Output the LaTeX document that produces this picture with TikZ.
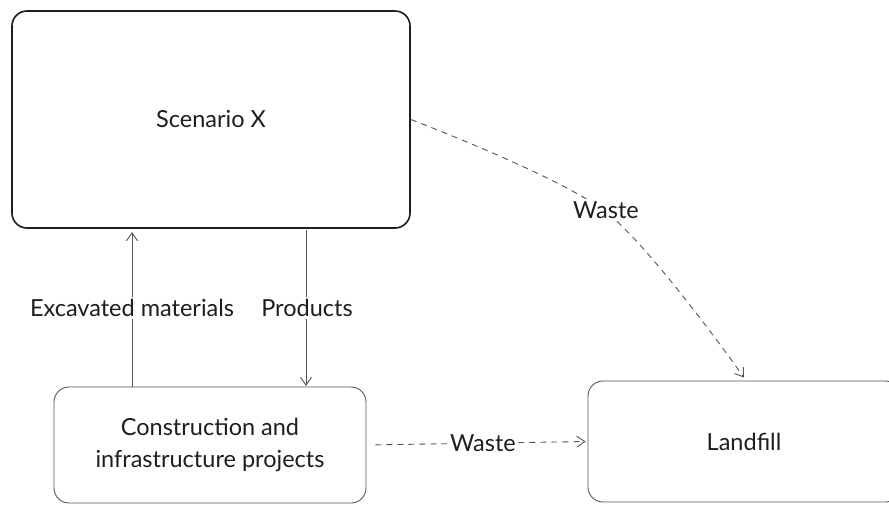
\documentclass[tikz,border=0pt]{standalone}
\usepackage{fontspec}
\setmainfont{Lato}
\usetikzlibrary{arrows.meta,calc}
\definecolor{ink}{HTML}{1E1E1E}
\definecolor{edge}{HTML}{555555}
\tikzset{
  box/.style={draw=edge, line width=0.9bp, rounded corners=15bp, inner sep=0pt, align=center, text=ink, font=\fontsize{23.5bp}{32bp}\selectfont},
  mainbox/.style={box, draw=ink, line width=1.6bp},
  flow/.style={draw=edge, line width=0.9bp, -{Straight Barb[length=8bp,width=11bp]}},
  wasteflow/.style={flow, dash pattern=on 6bp off 5bp},
  lbl/.style={fill=white, inner sep=2bp, text=ink, font=\fontsize{23.5bp}{28bp}\selectfont}
}
\begin{document}
\begin{tikzpicture}[x=1bp, y=-1bp]
\clip (0,0) rectangle (889,506);
\fill[white] (0,0) rectangle (889,506);
\node[mainbox, minimum width=398bp, minimum height=217bp] (scen) at (211,119.5) {Scenario X};
\node[box, minimum width=312bp, minimum height=116bp] (cons) at (210,445) {Construction and\\infrastructure projects};
\node[box, minimum width=312bp, minimum height=121bp] (land) at (744,441.5) {Landfill};

\coordinate (exA) at (132,387);
\coordinate (exB) at (132,232);
\coordinate (prA) at (306,230);
\coordinate (prB) at (306,386);
\draw[flow] (exA) -- (exB);
\draw[flow] (prA) -- (prB);
\node[lbl] (exl) at (132,308) {Excavated materials};
\node[lbl] (prl) at (307,308) {Products};

\coordinate (wmid) at (606,212);
\coordinate (wend) at ($(land.north)+(0,-3)$);
\draw[wasteflow] plot[smooth, tension=0.5] coordinates {(scen.east) (wmid) (wend)};
\node[lbl] (wl1) at (606,210) {Waste};

\draw[wasteflow, shorten <=9bp, shorten >=2bp] (cons.east) -- (land.west);
\node[lbl, inner sep=1bp] (wl2) at (483,443) {Waste};
\end{tikzpicture}
\end{document}
